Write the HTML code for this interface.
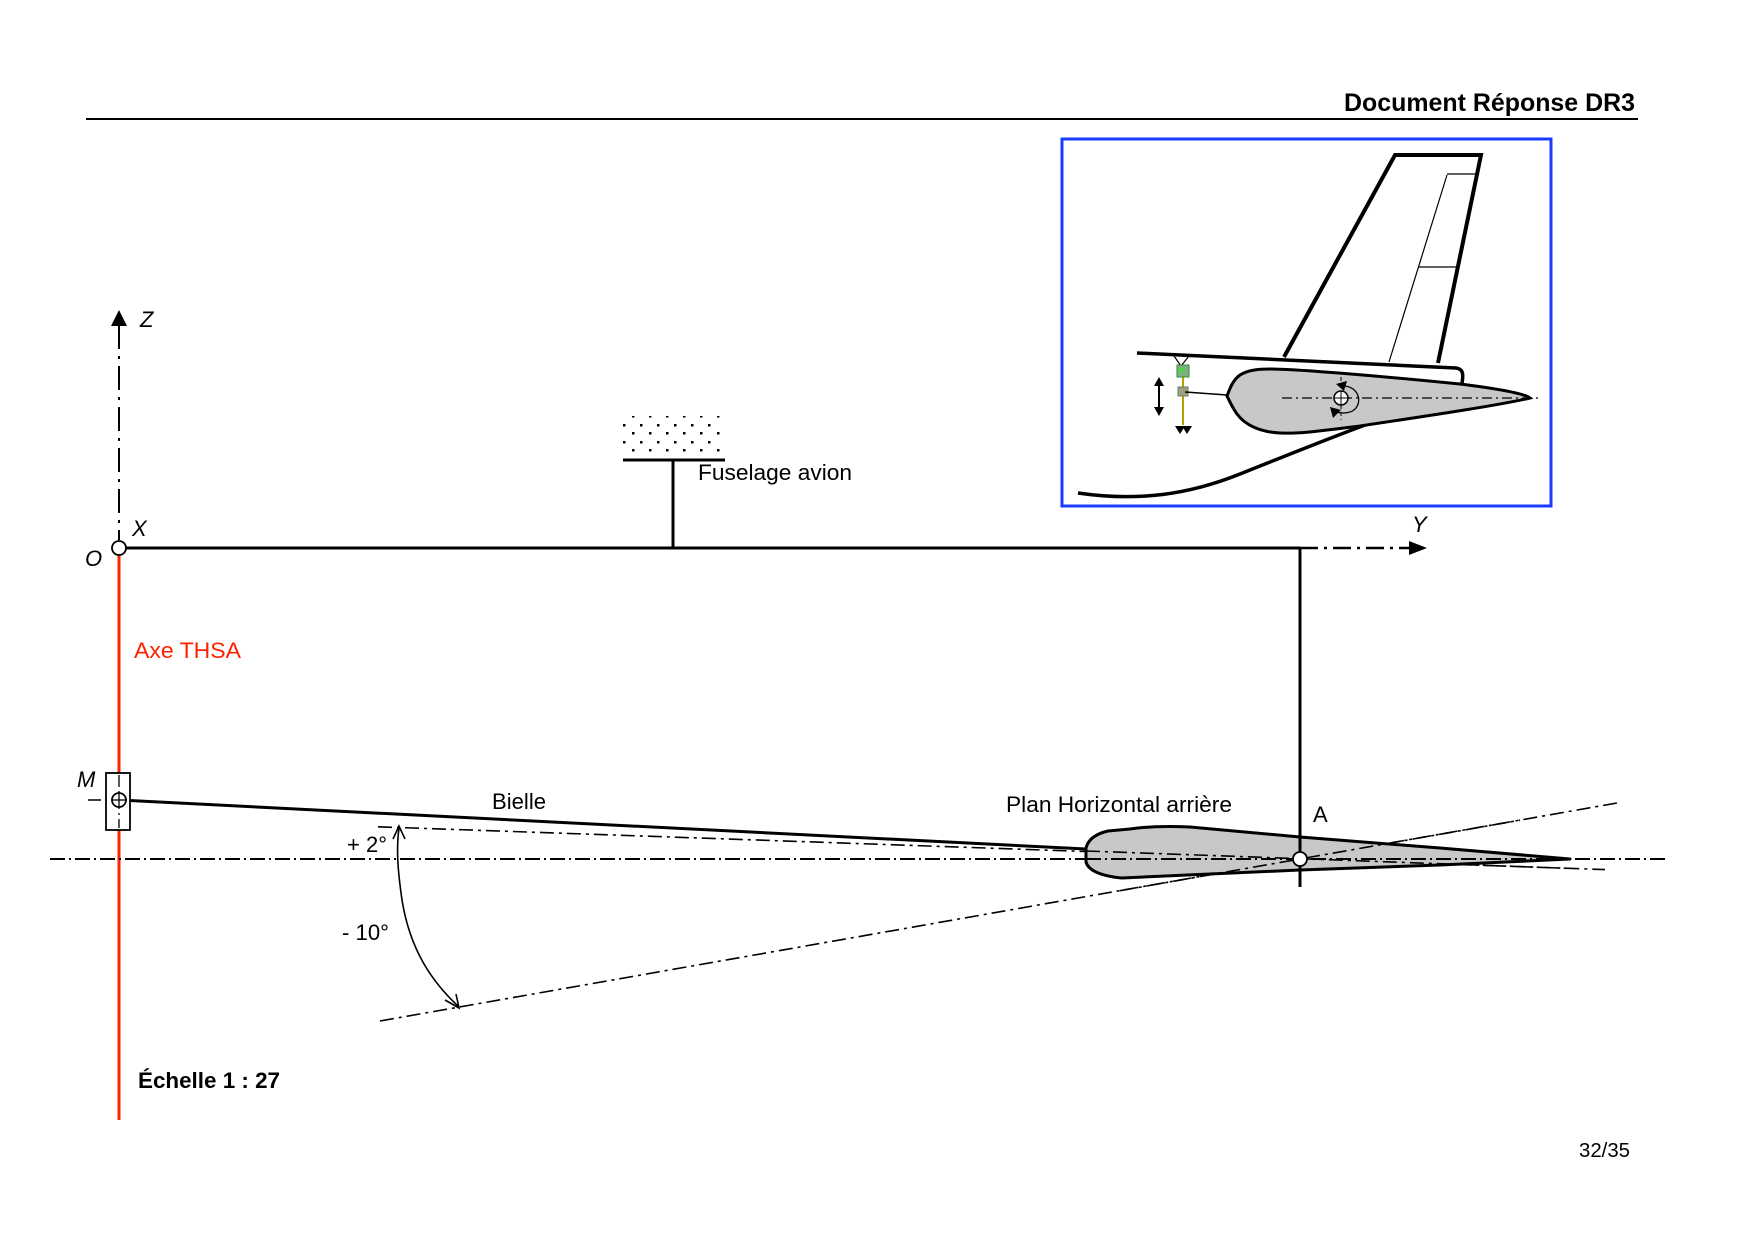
<!DOCTYPE html>
<html>
<head>
<meta charset="utf-8">
<style>
  html, body { margin: 0; padding: 0; background: #fff; }
  svg { display: block; }
  text { font-family: "Liberation Sans", Arial, sans-serif; }
</style>
</head>
<body>
<svg width="1754" height="1240" viewBox="0 0 1754 1240" xmlns="http://www.w3.org/2000/svg">
  <rect x="0" y="0" width="1754" height="1240" fill="#fff"/>

  <!-- Header -->
  <text x="1344" y="111" font-size="25" font-weight="bold" textLength="291" lengthAdjust="spacingAndGlyphs">Document Réponse DR3</text>
  <line x1="86" y1="119" x2="1638" y2="119" stroke="#000" stroke-width="2"/>

  <!-- Inset box -->
  <rect x="1062" y="139" width="489" height="367" fill="none" stroke="#1a3cff" stroke-width="3"/>
  <!-- Fin -->
  <polyline points="1284,357 1395,155 1481,155 1438,363" fill="none" stroke="#000" stroke-width="4" stroke-linejoin="miter"/>
  <line x1="1447" y1="174" x2="1476" y2="174" stroke="#000" stroke-width="1.2"/>
  <line x1="1447" y1="175" x2="1389" y2="362" stroke="#000" stroke-width="1.2"/>
  <line x1="1418" y1="267" x2="1457" y2="267" stroke="#000" stroke-width="1.2"/>
  <!-- Fuselage top -->
  <path d="M1137,353 L1456,368 C1462,369 1464,372 1462,383" fill="none" stroke="#000" stroke-width="3.5"/>
  <!-- Lower fuselage -->
  <path d="M1078,493 C1140,502 1190,494 1240,474 C1290,454 1330,438 1365,425" fill="none" stroke="#000" stroke-width="3.5"/>
  <!-- Inset stabilizer -->
  <path d="M1227,396 C1230,388 1233,380 1240,375 C1248,370 1258,369 1270,369 C1300,369 1400,378 1460,384 C1500,389 1525,394 1530,398 C1500,405 1440,414 1360,426 C1320,431 1300,434 1280,433 C1260,432 1245,425 1237,414 C1232,407 1229,400 1227,396 Z" fill="#c8c8c8" stroke="#000" stroke-width="3"/>
  <line x1="1282" y1="398" x2="1542" y2="398" stroke="#000" stroke-width="1.3" stroke-dasharray="10 4 2 4"/>
  <line x1="1341" y1="377" x2="1341" y2="420" stroke="#000" stroke-width="1" stroke-dasharray="4 3"/>
  <path d="M1345,386 C1358,388 1362,400 1356,408 C1352,413 1344,414 1336,412" fill="none" stroke="#000" stroke-width="1.3"/>
  <polygon points="1336,384 1347,381 1344,391" fill="#000"/>
  <polygon points="1330,407 1341,410 1333,418" fill="#000"/>
  <circle cx="1341" cy="398" r="7" fill="#fff" stroke="#000" stroke-width="1.5"/>
  <line x1="1334" y1="398" x2="1348" y2="398" stroke="#000" stroke-width="1"/>
  <line x1="1341" y1="391" x2="1341" y2="405" stroke="#000" stroke-width="1"/>
  <!-- Actuator -->
  <polyline points="1174,356 1181,366 1189,356" fill="none" stroke="#000" stroke-width="1.2"/>
  <line x1="1183" y1="365" x2="1183" y2="425" stroke="#b5a100" stroke-width="2"/>
  <rect x="1177" y="365" width="12" height="12" fill="#7fb07f" stroke="#3a8a3a" stroke-width="1"/>
  <rect x="1179" y="368" width="4" height="4" fill="#40e040"/>
  <rect x="1178" y="387" width="10" height="9" fill="#a0a080" stroke="#608060" stroke-width="1"/>
  <line x1="1185" y1="392" x2="1227" y2="395" stroke="#000" stroke-width="1.5"/>
  <!-- Double arrow -->
  <line x1="1159" y1="383" x2="1159" y2="410" stroke="#000" stroke-width="2"/>
  <polygon points="1159,377 1154,386 1164,386" fill="#000"/>
  <polygon points="1159,416 1154,407 1164,407" fill="#000"/>
  <!-- W arrows -->
  <polygon points="1175,426 1185,426 1180,434" fill="#000"/>
  <polygon points="1182,426 1192,426 1187,434" fill="#000"/>

  <!-- Z axis -->
  <line x1="119" y1="325" x2="119" y2="540" stroke="#000" stroke-width="2" stroke-dasharray="24 7 3 7"/>
  <polygon points="119,310 111,326 127,326" fill="#000"/>
  <text x="140" y="327" font-size="22" font-style="italic">Z</text>
  <text x="132" y="536" font-size="22" font-style="italic">X</text>
  <text x="85" y="566" font-size="22" font-style="italic">O</text>

  <!-- Y axis -->
  <line x1="119" y1="548" x2="1300" y2="548" stroke="#000" stroke-width="3"/>
  <line x1="1300" y1="548" x2="1410" y2="548" stroke="#000" stroke-width="2.5" stroke-dasharray="18 6 3 6"/>
  <polygon points="1427,548 1409,541 1409,555" fill="#000"/>
  <text x="1412" y="532" font-size="22" font-style="italic">Y</text>

  <!-- Fuselage support -->
  <g fill="#000">
    <rect x="632" y="416" width="2.5" height="1.5"/><rect x="649" y="416" width="2.5" height="1.5"/><rect x="666" y="416" width="2.5" height="1.5"/><rect x="683" y="416" width="2.5" height="1.5"/><rect x="700" y="416" width="2.5" height="1.5"/><rect x="717" y="416" width="2.5" height="1.5"/>
    <rect x="623" y="424" width="2.5" height="2.5"/><rect x="640" y="424" width="2.5" height="2.5"/><rect x="657" y="424" width="2.5" height="2.5"/><rect x="674" y="424" width="2.5" height="2.5"/><rect x="691" y="424" width="2.5" height="2.5"/><rect x="708" y="424" width="2.5" height="2.5"/>
    <rect x="632" y="432" width="2.5" height="2.5"/><rect x="649" y="432" width="2.5" height="2.5"/><rect x="666" y="432" width="2.5" height="2.5"/><rect x="683" y="432" width="2.5" height="2.5"/><rect x="700" y="432" width="2.5" height="2.5"/><rect x="717" y="432" width="2.5" height="2.5"/>
    <rect x="623" y="441" width="2.5" height="2.5"/><rect x="640" y="441" width="2.5" height="2.5"/><rect x="657" y="441" width="2.5" height="2.5"/><rect x="674" y="441" width="2.5" height="2.5"/><rect x="691" y="441" width="2.5" height="2.5"/><rect x="708" y="441" width="2.5" height="2.5"/>
    <rect x="632" y="449" width="2.5" height="2.5"/><rect x="649" y="449" width="2.5" height="2.5"/><rect x="666" y="449" width="2.5" height="2.5"/><rect x="683" y="449" width="2.5" height="2.5"/><rect x="700" y="449" width="2.5" height="2.5"/><rect x="717" y="449" width="2.5" height="2.5"/>
  </g>
  <line x1="623" y1="460" x2="725" y2="460" stroke="#000" stroke-width="3"/>
  <line x1="673" y1="460" x2="673" y2="548" stroke="#000" stroke-width="3"/>
  <text x="698" y="480" font-size="22.5" textLength="154" lengthAdjust="spacingAndGlyphs">Fuselage avion</text>

  <!-- Red THSA axis -->
  <line x1="119" y1="555" x2="119" y2="1120" stroke="#ff2200" stroke-width="3"/>
  <text x="134" y="658" font-size="22.5" fill="#ff2200" textLength="107" lengthAdjust="spacingAndGlyphs">Axe THSA</text>

  <!-- origin circle -->
  <circle cx="119" cy="548" r="7" fill="#fff" stroke="#000" stroke-width="1.8"/>

  <!-- Horizontal dash-dot axis -->
  <line x1="50" y1="859" x2="1667" y2="859" stroke="#000" stroke-width="2" stroke-dasharray="15 4 2 4"/>

  <!-- Angle lines -->
  <line x1="378" y1="826.8" x2="1605" y2="869.6" stroke="#000" stroke-width="1.6" stroke-dasharray="14 5 3 5"/>
  <line x1="380" y1="1021" x2="1617" y2="803" stroke="#000" stroke-width="1.6" stroke-dasharray="14 5 3 5"/>

  <!-- Bielle -->
  <line x1="119" y1="800" x2="1086" y2="849" stroke="#000" stroke-width="3"/>
  <text x="492" y="809" font-size="22.5" textLength="54" lengthAdjust="spacingAndGlyphs">Bielle</text>

  <!-- M block -->
  <rect x="106" y="773" width="24" height="57" fill="#fff" stroke="#000" stroke-width="1.8"/>
  <line x1="119" y1="775" x2="119" y2="828" stroke="#000" stroke-width="1.3" stroke-dasharray="12 4 2 4"/>
  <line x1="88" y1="800" x2="101" y2="800" stroke="#000" stroke-width="1.5"/>
  <circle cx="119" cy="800" r="7" fill="#fff" stroke="#000" stroke-width="1.8"/>
  <line x1="112" y1="800" x2="126" y2="800" stroke="#000" stroke-width="1.3"/>
  <line x1="119" y1="793" x2="119" y2="807" stroke="#000" stroke-width="1.3"/>
  <text x="77" y="787" font-size="22" font-style="italic">M</text>

  <!-- Airfoil -->
  <path d="M1086,848 C1088,840 1095,834 1108,831 L1130,829 C1150,826 1170,826 1190,827 L1300,837 L1440,848 L1570,859 L1440,865 L1300,870 L1122,878 C1100,876 1088,870 1086,862 Z" fill="#c8c8c8" stroke="#000" stroke-width="3" stroke-linejoin="round"/>
  <line x1="1086" y1="859" x2="1570" y2="859" stroke="#000" stroke-width="2" stroke-dasharray="15 4 2 4"/>
  <line x1="1086" y1="851" x2="1570" y2="868.4" stroke="#000" stroke-width="1.6" stroke-dasharray="14 5 3 5"/>
  <line x1="1120" y1="890.7" x2="1520" y2="820.2" stroke="#000" stroke-width="1.6" stroke-dasharray="14 5 3 5"/>
  <text x="1006" y="812" font-size="22.5" textLength="226" lengthAdjust="spacingAndGlyphs">Plan Horizontal arrière</text>

  <!-- A -->
  <line x1="1300" y1="548" x2="1300" y2="887" stroke="#000" stroke-width="3"/>
  <circle cx="1300" cy="859" r="7" fill="#fff" stroke="#000" stroke-width="1.8"/>
  <text x="1313" y="822" font-size="22">A</text>

  <!-- Angle arc with arrows -->
  <path d="M399,828 C396,850 398,872 402,900 C410,950 432,982 459,1007" fill="none" stroke="#000" stroke-width="1.6"/>
  <polyline points="393,839 399,826 405,839" fill="none" stroke="#000" stroke-width="1.6"/>
  <polyline points="445,1000 459,1008 456,994" fill="none" stroke="#000" stroke-width="1.6"/>
  <text x="347" y="852" font-size="22" textLength="40" lengthAdjust="spacingAndGlyphs">+ 2°</text>
  <text x="342" y="940" font-size="22" textLength="47" lengthAdjust="spacingAndGlyphs">- 10°</text>

  <!-- Scale -->
  <text x="138" y="1088" font-size="22.5" font-weight="bold" textLength="142" lengthAdjust="spacingAndGlyphs">Échelle 1 : 27</text>

  <!-- Page number -->
  <text x="1579" y="1157" font-size="20" textLength="51" lengthAdjust="spacingAndGlyphs">32/35</text>
</svg>
</body>
</html>
